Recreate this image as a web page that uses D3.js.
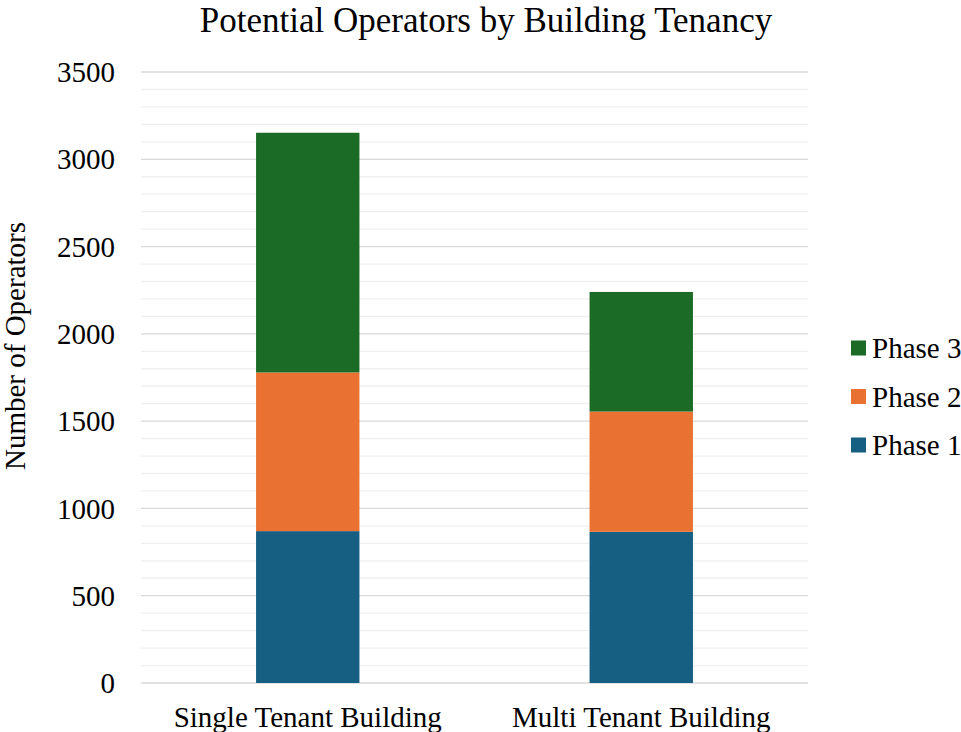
<!DOCTYPE html>
<html>
<head>
<meta charset="utf-8">
<script src="https://cdn.jsdelivr.net/npm/d3@7"></script>
<style>
  body { margin: 0; background: #fff; }
  text { font-family: "Liberation Serif", "Times New Roman", serif; fill: #000; }
</style>
</head>
<body>
<div id="chart"></div>
<script>
// data
const categories = ["Single Tenant Building", "Multi Tenant Building"];
const phase1 = [870, 866];
const phase2 = [909, 689];
const phase3 = [1373, 685];
const seriesNames = ["Phase 1", "Phase 2", "Phase 3"];
const colors = ["#175f82", "#e97233", "#1b6b26"];
const yTicks = [0, 500, 1000, 1500, 2000, 2500, 3000, 3500];

const W = 961, H = 732;
const margin = { top: 72, right: 153, bottom: 49, left: 141 };
const width = W - margin.left - margin.right;
const height = H - margin.top - margin.bottom;

const svg = d3.select("#chart").append("svg")
    .attr("width", W)
    .attr("height", H);

// build table for stacking
const table = categories.map((c, i) => ({ cat: c, "Phase 1": phase1[i], "Phase 2": phase2[i], "Phase 3": phase3[i] }));
const stacked = d3.stack().keys(seriesNames)(table);

const x = d3.scaleBand()
    .domain(categories)
    .range([0, width])
    .paddingInner(0.69)
    .paddingOuter(0.345);

const y = d3.scaleLinear()
    .domain([0, 3500])
    .range([height, 0]);

const g = svg.append("g")
    .attr("transform", "translate(" + margin.left + "," + margin.top + ")");

// minor gridlines every 100
g.append("g").selectAll("line")
    .data(d3.range(100, 3500, 100).filter(v => v % 500 != 0))
    .enter().append("line")
    .attr("x1", 0).attr("x2", width)
    .attr("y1", d => y(d)).attr("y2", d => y(d))
    .attr("stroke", "#f0f0f0")
    .attr("stroke-width", 1.3);

// major gridlines
g.append("g").selectAll("line")
    .data(yTicks)
    .enter().append("line")
    .attr("x1", 0).attr("x2", width)
    .attr("y1", d => y(d)).attr("y2", d => y(d))
    .attr("stroke", "#d9d9d9")
    .attr("stroke-width", 1.3);

// bars
g.append("g").selectAll("g")
    .data(stacked)
    .enter().append("g")
    .attr("fill", (d, i) => colors[i])
    .selectAll("rect")
    .data(d => d)
    .enter().append("rect")
    .attr("x", d => x(d.data.cat))
    .attr("width", x.bandwidth())
    .attr("y", d => y(d[1]))
    .attr("height", d => y(d[0]) - y(d[1]));

// y axis labels
g.append("g").selectAll("text")
    .data(yTicks)
    .enter().append("text")
    .attr("x", -26)
    .attr("y", d => y(d))
    .attr("dy", "0.35em")
    .attr("text-anchor", "end")
    .style("font-size", "29px")
    .text(d => d);

// x axis labels
g.append("g").selectAll("text")
    .data(categories)
    .enter().append("text")
    .attr("x", d => x(d) + x.bandwidth() / 2)
    .attr("y", height + 44)
    .attr("text-anchor", "middle")
    .style("font-size", "29px")
    .text(d => d);

// y axis title
svg.append("text")
    .attr("transform", "translate(24.5," + 346 + ") rotate(-90)")
    .attr("text-anchor", "middle")
    .style("font-size", "29px")
    .text("Number of Operators");

// title
svg.append("text")
    .attr("x", 486)
    .attr("y", 32)
    .attr("text-anchor", "middle")
    .style("font-size", "35px")
    .text("Potential Operators by Building Tenancy");

// legend (reverse order: Phase 3 on top)
const legend = svg.append("g")
    .selectAll("g")
    .data(seriesNames.slice().reverse())
    .enter().append("g")
    .attr("transform", (d, i) => "translate(851," + (348 + i * 48.5) + ")");

legend.append("rect")
    .attr("x", 0).attr("y", -7.5)
    .attr("width", 15).attr("height", 15)
    .attr("fill", d => colors[seriesNames.indexOf(d)]);

legend.append("text")
    .attr("x", 21)
    .attr("y", 0)
    .attr("dy", "0.35em")
    .style("font-size", "29px")
    .text(d => d);
</script>
</body>
</html>
